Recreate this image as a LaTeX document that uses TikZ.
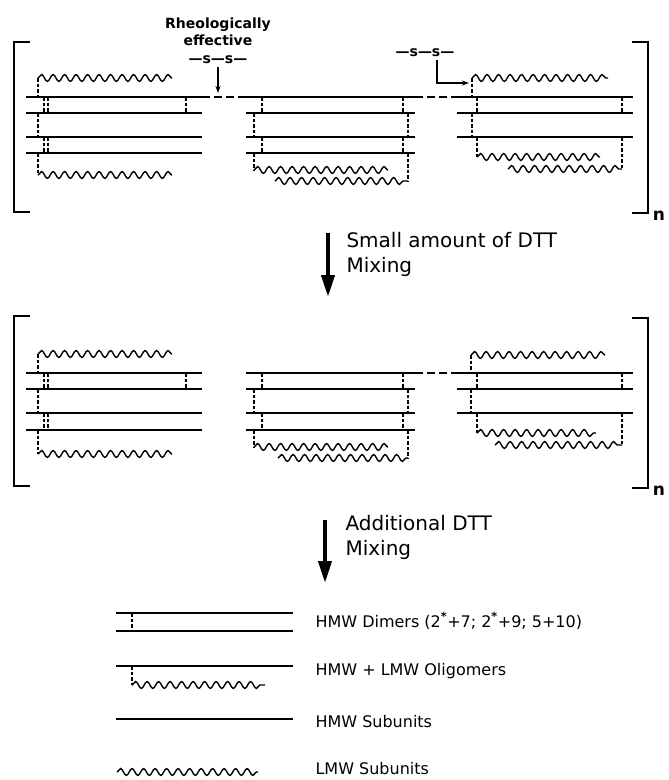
\documentclass[tikz,border=0pt]{standalone}
\usepackage{fontspec}
\setmainfont{DejaVu Sans}
\usetikzlibrary{arrows.meta, decorations.pathmorphing}

\begin{document}
\begin{tikzpicture}[x=1pt, y=-1pt,
  strand/.style={line width=1.8pt},
  ssbond/.style={line width=1.4pt, dash pattern=on 3.5pt off 2pt},
  ssgap/.style={line width=1.8pt, dash pattern=on 8pt off 4pt},
  lmw/.style={line width=1.4pt, decorate, decoration={snake, segment length=11.5pt, amplitude=3.4pt}},
  bracket/.style={line width=1.6pt},
  thinarrow/.style={line width=1.2pt, -{Stealth[length=7pt, width=5pt]}},
  bigarrow/.style={line width=4pt, -{Triangle[length=22pt, width=13pt]}},
  steptext/.style={font=\fontsize{20}{24}\selectfont, anchor=base west},
  keytext/.style={font=\fontsize{16}{19}\selectfont, anchor=base west},
  sstext/.style={font=\fontsize{14}{17}\selectfont\bfseries, anchor=base}]
\useasboundingbox (0,0) rectangle (669,780);

\draw [bracket] (30,42) -- (14,42) -- (14,212) -- (30,212);
\draw [bracket] (632,42) -- (648,42) -- (648,213) -- (632,213);
\node (nA) [font=\fontsize{17}{20}\selectfont\bfseries] at (659,216) {n};

\draw [lmw] (38,78) -- (172,78);
\draw [ssbond] (38,78) -- (38,97);
\draw [strand] (26,97) -- (202,97);
\draw [strand] (26,113) -- (202,113);
\draw [strand] (26,137) -- (202,137);
\draw [strand] (26,153) -- (202,153);
\draw [ssbond] (44,97) -- (44,113);
\draw [ssbond] (48,97) -- (48,113);
\draw [ssbond] (186,97) -- (186,113);
\draw [ssbond] (38,113) -- (38,137);
\draw [ssbond] (44,137) -- (44,153);
\draw [ssbond] (48,137) -- (48,153);
\draw [ssbond] (38,153) -- (38,175);
\draw [lmw] (38,175) -- (172,175);
\draw [ssgap] (202,97) -- (246,97);

\draw [strand] (246,97) -- (415,97);
\draw [strand] (246,113) -- (415,113);
\draw [strand] (246,137) -- (415,137);
\draw [strand] (246,153) -- (415,153);
\draw [ssbond] (262,97) -- (262,113);
\draw [ssbond] (403,97) -- (403,113);
\draw [ssbond] (254,113) -- (254,137);
\draw [ssbond] (408,113) -- (408,137);
\draw [ssbond] (262,137) -- (262,153);
\draw [ssbond] (403,137) -- (403,153);
\draw [ssbond] (254,153) -- (254,170);
\draw [lmw] (254,170) -- (388,170);
\draw [ssbond] (408,153) -- (408,181);
\draw [lmw] (275,181) -- (408,181);
\draw [ssgap] (415,97) -- (457,97);

\draw [lmw] (472,78) -- (608,78);
\draw [ssbond] (472,78) -- (472,97);
\draw [strand] (457,97) -- (633,97);
\draw [strand] (457,113) -- (633,113);
\draw [strand] (457,137) -- (633,137);
\draw [ssbond] (477,97) -- (477,113);
\draw [ssbond] (622,97) -- (622,113);
\draw [ssbond] (472,113) -- (472,137);
\draw [ssbond] (477,137) -- (477,157);
\draw [lmw] (477,157) -- (600,157);
\draw [ssbond] (622,137) -- (622,169);
\draw [lmw] (508,169) -- (622,169);

\node (rheoA) [sstext] at (218,28) {Rheologically};
\node (rheoB) [sstext] at (218,45) {effective};
\node (ssA) [sstext] at (218,63) {---s---s---};
\coordinate (gapA) at (218,93);
\draw [thinarrow] (ssA) -- (gapA);
\node (ssB) [sstext] at (425,56) {---s---s---};
\coordinate (ssBfoot) at (437,60);
\coordinate (linkB) at (469,83);
\draw [thinarrow] (ssBfoot) |- (linkB);

\coordinate (stepAtop) at (328,233);
\coordinate (stepAend) at (328,297);
\draw [bigarrow] (stepAtop) -- (stepAend);
\node (stepA1) [steptext] at (343,247) {Small amount of DTT};
\node (stepA2) [steptext] at (343,272) {Mixing};

\draw [bracket] (30,316) -- (14,316) -- (14,486) -- (30,486);
\draw [bracket] (632,318) -- (648,318) -- (648,488) -- (632,488);
\node (nB) [font=\fontsize{17}{20}\selectfont\bfseries] at (659,491) {n};

\draw [lmw] (38,354) -- (172,354);
\draw [ssbond] (38,354) -- (38,373);
\draw [strand] (26,373) -- (202,373);
\draw [strand] (26,389) -- (202,389);
\draw [strand] (26,413) -- (202,413);
\draw [strand] (26,430) -- (202,430);
\draw [ssbond] (44,373) -- (44,389);
\draw [ssbond] (48,373) -- (48,389);
\draw [ssbond] (186,373) -- (186,389);
\draw [ssbond] (38,389) -- (38,413);
\draw [ssbond] (44,413) -- (44,430);
\draw [ssbond] (48,413) -- (48,430);
\draw [ssbond] (38,430) -- (38,454);
\draw [lmw] (38,454) -- (172,454);

\draw [strand] (246,373) -- (415,373);
\draw [strand] (246,389) -- (415,389);
\draw [strand] (246,413) -- (415,413);
\draw [strand] (246,430) -- (415,430);
\draw [ssbond] (262,373) -- (262,389);
\draw [ssbond] (403,373) -- (403,389);
\draw [ssbond] (254,389) -- (254,413);
\draw [ssbond] (408,389) -- (408,413);
\draw [ssbond] (262,413) -- (262,430);
\draw [ssbond] (403,413) -- (403,430);
\draw [ssbond] (254,430) -- (254,447);
\draw [lmw] (254,447) -- (388,447);
\draw [ssbond] (408,430) -- (408,458);
\draw [lmw] (278,458) -- (408,458);
\draw [ssgap] (415,373) -- (457,373);

\draw [lmw] (471,355) -- (605,355);
\draw [ssbond] (471,355) -- (471,373);
\draw [strand] (457,373) -- (633,373);
\draw [strand] (457,389) -- (633,389);
\draw [strand] (457,413) -- (633,413);
\draw [ssbond] (477,373) -- (477,389);
\draw [ssbond] (622,373) -- (622,389);
\draw [ssbond] (471,389) -- (471,413);
\draw [ssbond] (477,413) -- (477,433);
\draw [lmw] (477,433) -- (596,433);
\draw [ssbond] (622,413) -- (622,445);
\draw [lmw] (495,445) -- (622,445);

\coordinate (stepBtop) at (325,520);
\coordinate (stepBend) at (325,583);
\draw [bigarrow] (stepBtop) -- (stepBend);
\node (stepB1) [steptext] at (342,530) {Additional DTT};
\node (stepB2) [steptext] at (342,555) {Mixing};

\draw [strand] (116,613) -- (293,613);
\draw [strand] (116,631) -- (293,631);
\draw [ssbond] (132,613) -- (132,631);
\node (keyA) [keytext] at (312,627) {HMW Dimers (2\textsuperscript{\bfseries *}+7; 2\textsuperscript{\bfseries *}+9; 5+10)};
\draw [strand] (116,666) -- (293,666);
\draw [ssbond] (132,666) -- (132,685);
\draw [lmw] (132,685) -- (265,685);
\node (keyB) [keytext] at (312,675) {HMW + LMW Oligomers};
\draw [strand] (116,719) -- (293,719);
\node (keyC) [keytext] at (312,727) {HMW Subunits};
\draw [lmw] (117,772) -- (258,772);
\node (keyD) [keytext] at (312,774) {LMW Subunits};
\end{tikzpicture}
\end{document}
